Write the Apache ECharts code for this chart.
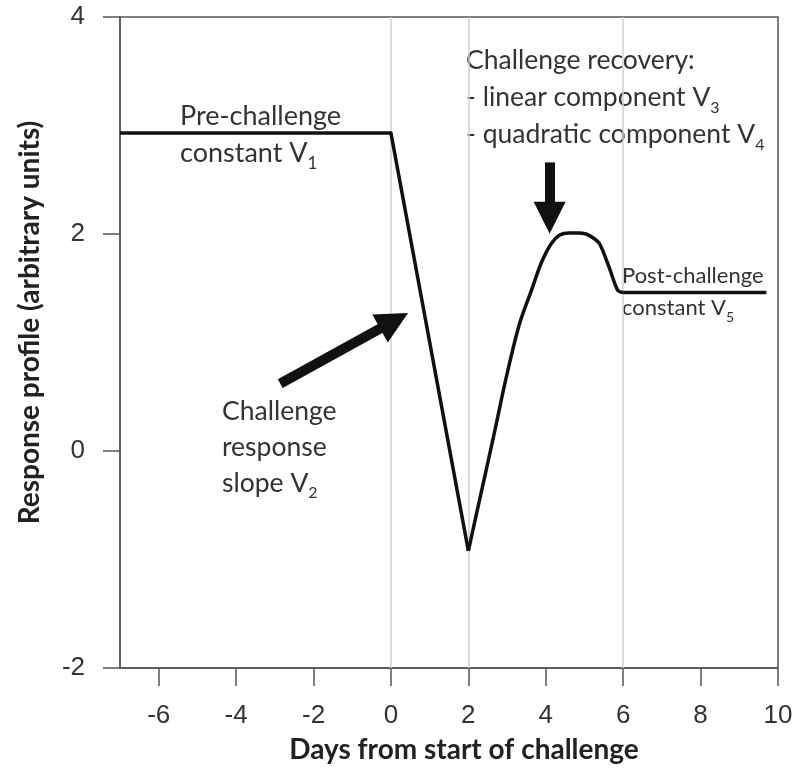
<!DOCTYPE html>
<html>
<head>
<meta charset="utf-8">
<script src="https://cdn.jsdelivr.net/npm/echarts@6/dist/echarts.min.js"></script>
<style>
  html, body { margin: 0; padding: 0; background: #fff; }
  #chart { width: 795px; height: 769px; }
</style>
</head>
<body>
<div id="chart"></div>
<script>
// response profile
var days = [-7, 0, 2, 2.34, 2.68, 2.98, 3.32, 3.63, 3.88, 4.14, 4.36, 4.6, 4.85, 5.04, 5.2, 5.39, 5.64, 5.86, 6, 9.7];
var response = [2.93, 2.93, -0.92, -0.37, 0.18, 0.68, 1.17, 1.48, 1.73, 1.91, 1.99, 2.01, 2.01, 2.0, 1.97, 1.91, 1.69, 1.48, 1.46, 1.46];

var xTicks = [-6, -4, -2, 0, 2, 4, 6, 8, 10];
var guideDays = [0, 2, 6];

// arrows: [tail, head] in data units
var arrowSlope = [[-2.86, 0.62], [0.08, 1.2]];
var arrowRecovery = [[4.1, 2.66], [4.1, 2.15]];

var chart = echarts.init(document.getElementById('chart'));

var points = days.map(function (d, i) { return [d, response[i]]; });
var recStart = 2, recEnd = 18; // indexes of day 2 and day 6

var noteFont = 'Lato';

function note(left, top, text, size, lh) {
  return {
    type: 'text',
    left: left,
    top: top,
    silent: true,
    style: {
      text: text,
      fontFamily: noteFont,
      fontSize: size,
      lineHeight: lh,
      fill: '#333',
      rich: {
        n: { fontSize: size, lineHeight: lh, fontFamily: noteFont, fill: '#333' },
        s: { fontSize: Math.round(size * 0.62), lineHeight: lh - 6, verticalAlign: 'bottom', fontFamily: noteFont, fill: '#333' }
      }
    }
  };
}

var blackLine = { color: '#111', width: 3.5, join: 'round' };

chart.setOption({
  animation: false,
  grid: {
    left: 120,
    right: 17,
    top: 17,
    bottom: 101,
    outerBoundsMode: 'none',
    show: true,
    borderColor: '#555',
    borderWidth: 1.5
  },
  xAxis: {
    type: 'value',
    min: -7,
    max: 10,
    name: 'Days from start of challenge',
    nameLocation: 'middle',
    nameGap: 68,
    nameTextStyle: { fontFamily: 'Lato', fontWeight: 'bold', fontSize: 28, color: '#222', padding: [0, 0, 0, 30] },
    axisLine: { show: true, onZero: false, lineStyle: { color: '#555', width: 1.5 } },
    axisTick: { show: true, length: 18, customValues: xTicks, lineStyle: { color: '#555', width: 1.5 } },
    axisLabel: { customValues: xTicks, margin: 35, fontSize: 26, color: '#333', fontFamily: 'Liberation Sans' },
    splitLine: { show: false }
  },
  yAxis: {
    type: 'value',
    min: -2,
    max: 4,
    interval: 2,
    name: 'Response profile (arbitrary units)',
    nameLocation: 'middle',
    nameGap: 76,
    nameTextStyle: { fontFamily: 'Lato', fontWeight: 'bold', fontSize: 28, color: '#222', padding: [0, 0, 0, 40] },
    axisLine: { show: true, onZero: false, lineStyle: { color: '#555', width: 1.5 } },
    axisTick: { show: true, length: 17, lineStyle: { color: '#555', width: 1.5 } },
    axisLabel: { margin: 35, fontSize: 26, color: '#333', fontFamily: 'Liberation Sans', showMinLabel: true, showMaxLabel: true },
    splitLine: { show: false }
  },
  series: [
    {
      // pre-challenge constant and challenge response slope
      type: 'line',
      data: points.slice(0, recStart + 1),
      symbol: 'none',
      lineStyle: blackLine,
      z: 3,
      markLine: {
        silent: true,
        z: 1,
        symbol: 'none',
        label: { show: false },
        lineStyle: { color: '#d2d2d2', width: 1.5, type: 'solid' },
        data: guideDays.map(function (d) { return { xAxis: d }; })
      }
    },
    {
      // recovery
      type: 'line',
      data: points.slice(recStart, recEnd + 1),
      symbol: 'none',
      smooth: 0.3,
      lineStyle: blackLine,
      z: 3
    },
    {
      // post-challenge constant
      type: 'line',
      data: points.slice(recEnd),
      symbol: 'none',
      lineStyle: blackLine,
      z: 3
    },
    {
      type: 'line',
      data: [],
      symbol: 'none',
      markLine: {
        silent: true,
        z: 6,
        symbol: ['none', 'triangle'],
        symbolSize: 32,
        label: { show: false },
        lineStyle: { color: '#111', width: 10, type: 'solid', opacity: 1 },
        itemStyle: { color: '#111' },
        data: [
          [{ coord: arrowSlope[0] }, { coord: arrowSlope[1] }],
          [{ coord: arrowRecovery[0] }, { coord: arrowRecovery[1] }]
        ]
      }
    }
  ],
  graphic: [
    note(180, 98, 'Pre-challenge\n{n|constant V}{s|1}', 27, 37),
    note(466, 42, 'Challenge recovery:\n{n|- linear component V}{s|3}\n{n|- quadratic component V}{s|4}', 26.5, 37),
    note(622, 260, 'Post-challenge\n{n|constant V}{s|5}', 22, 32),
    note(222, 393, 'Challenge\nresponse\n{n|slope V}{s|2}', 26.5, 36)
  ]
});
</script>
</body>
</html>
